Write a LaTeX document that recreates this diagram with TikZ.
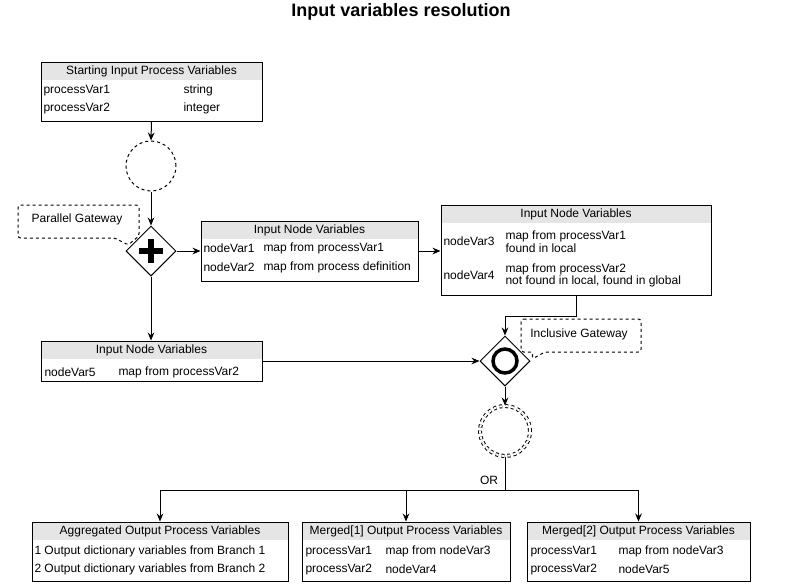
\documentclass[tikz,border=0pt]{standalone}
\usepackage{fontspec}
\setmainfont{Liberation Sans}
\usetikzlibrary{arrows.meta,shapes.geometric}

\tikzset{
  varbox/.style={draw, fill=white, inner sep=0pt,
    path picture={\fill[gray!20] (path picture bounding box.north west) rectangle ([yshift=-13.5pt]path picture bounding box.north east);}},
  headtxt/.style={font=\fontsize{9}{10}\selectfont, inner sep=0pt},
  rowtxt/.style={font=\fontsize{9}{9.5}\selectfont, inner sep=0pt, anchor=west, align=left, yshift=-1.1pt},
  gateway/.style={diamond, draw, fill=white, inner sep=0pt, minimum width=37.5pt, minimum height=37.5pt},
  event/.style={circle, draw, dash pattern=on 2.25pt off 2.25pt, inner sep=0pt, minimum size=37.5pt},
  callout/.style={draw, dash pattern=on 2.25pt off 2.25pt, rounded corners=2pt},
  flow/.style={-{Stealth[length=6pt,width=5pt]}}
}

\begin{document}
\begin{tikzpicture}[x=0.75pt, y=-0.75pt, line width=0.75pt]
        \useasboundingbox (0,0) rectangle (803,583);

        % Title
        \node[font=\bfseries\fontsize{13.5}{16}\selectfont] (title) at (401,12) {Input variables resolution};

        % Starting input process variables
        \node[varbox, minimum width=165.75pt, minimum height=44.25pt] (startvars) at (151.5,91.5) {};
        \node[headtxt] (startvarshead) at ([yshift=-7.6pt]startvars.north) {Starting Input Process Variables};
        \node[rowtxt] (sv1) at (43,89) {processVar1};
        \node[rowtxt] (sv1t) at (183,89) {string};
        \node[rowtxt] (sv2) at (43,107) {processVar2};
        \node[rowtxt] (sv2t) at (183,107) {integer};

        % Start event
        \node[event] (startcirc) at (151,166) {};

        % Parallel gateway
        \node[gateway] (pargw) at (151,251) {};
        \draw[line width=4.5pt] (139,251) -- (163,251);
        \draw[line width=4.5pt] (151,239) -- (151,263);
        \draw[callout] (18,205) -- (139,205) -- (139,236) -- (128,245) -- (115,238) -- (18,238) -- cycle;
        \node[headtxt] (parnote) at (77,219) {Parallel Gateway};

        % Input node variables (branch 1, first node)
        \node[varbox, minimum width=162.75pt, minimum height=45pt] (nodevarsA) at (309.5,251) {};
        \node[headtxt] (nodevarsAhead) at ([yshift=-7.6pt]nodevarsA.north) {Input Node Variables};
        \node[rowtxt] (nva1) at (203,247) {nodeVar1};
        \node[rowtxt] (nva1m) at (263,247) {map from processVar1};
        \node[rowtxt] (nva2) at (203,266) {nodeVar2};
        \node[rowtxt] (nva2m) at (263,266) {map from process definition};

        % Input node variables (branch 1, second node)
        \node[varbox, minimum width=202.5pt, minimum height=67.5pt] (nodevarsB) at (576,250) {};
        \node[headtxt] (nodevarsBhead) at ([yshift=-7.6pt]nodevarsB.north) {Input Node Variables};
        \node[rowtxt] (nvb3) at (443,240) {nodeVar3};
        \node[rowtxt] (nvb3m) at (505,240) {map from processVar1\\found in local};
        \node[rowtxt] (nvb4) at (443,274) {nodeVar4};
        \node[rowtxt] (nvb4m) at (505,274) {map from processVar2\\not found in local, found in global};

        % Input node variables (branch 2)
        \node[varbox, minimum width=165.75pt, minimum height=30pt] (nodevarsC) at (151.5,361) {};
        \node[headtxt] (nodevarsChead) at ([yshift=-7.6pt]nodevarsC.north) {Input Node Variables};
        \node[rowtxt] (nvc5) at (44,371) {nodeVar5};
        \node[rowtxt] (nvc5m) at (118,371) {map from processVar2};

        % Inclusive gateway
        \node[gateway] (incgw) at (505,361) {};
        \draw[line width=2.6pt] (incgw.center) circle[radius=9pt];
        \draw[callout] (521,319) -- (641,319) -- (641,352) -- (545,352) -- (532,359) -- (533,352) -- (521,352) -- cycle;
        \node[headtxt] (incnote) at (579,334) {Inclusive Gateway};

        % End event
        \node[event, double, double distance=1.5pt] (endcirc) at (505,431) {};
        \coordinate (orsplit) at (505,490);
        \node[headtxt] (orlabel) at (489,480) {OR};

        % Output process variables
        \node[varbox, minimum width=192pt, minimum height=44.25pt] (aggout) at (160,551.5) {};
        \node[headtxt] (aggouthead) at ([yshift=-7.6pt]aggout.north) {Aggregated Output Process Variables};
        \node[rowtxt] (ag1) at (34,550) {1\ Output dictionary variables from Branch 1};
        \node[rowtxt] (ag2) at (34,568) {2\ Output dictionary variables from Branch 2};

        \node[varbox, minimum width=156pt, minimum height=44.25pt] (mergeone) at (406,551.5) {};
        \node[headtxt] (mergeonehead) at ([yshift=-7.6pt]mergeone.north) {Merged[1] Output Process Variables};
        \node[rowtxt] (mo1) at (305,550) {processVar1};
        \node[rowtxt] (mo1m) at (385,550) {map from nodeVar3};
        \node[rowtxt] (mo2) at (305,568) {processVar2};
        \node[rowtxt] (mo2m) at (385,568) {nodeVar4};

        \node[varbox, minimum width=167.25pt, minimum height=44.25pt] (mergetwo) at (638.5,551.5) {};
        \node[headtxt] (mergetwohead) at ([yshift=-7.6pt]mergetwo.north) {Merged[2] Output Process Variables};
        \node[rowtxt] (mt1) at (530,550) {processVar1};
        \node[rowtxt] (mt1m) at (618,550) {map from nodeVar3};
        \node[rowtxt] (mt2) at (530,568) {processVar2};
        \node[rowtxt] (mt2m) at (618,568) {nodeVar5};

        % Connectors
        \draw[flow] (startvars.south) -- (startcirc.north);
        \draw[flow] (startcirc.south) -- (pargw.north);
        \draw[flow] (pargw.east) -- (nodevarsA.west);
        \draw[flow] (nodevarsA.east) -- (nodevarsA.east -| nodevarsB.west);
        \draw[flow] (pargw.south) -- (pargw.south |- nodevarsC.north);
        \draw[flow] (nodevarsB.south) -- ++(0,21) -| (incgw.north);
        \draw[flow] (nodevarsC.east) -- (incgw.west);
        \draw[flow] (incgw.south) -- (endcirc.north);
        \draw (endcirc.south) -- (orsplit);
        \draw[flow] (orsplit) -| (aggout.north);
        \draw[flow] (orsplit) -| (mergeone.north);
        \draw[flow] (orsplit) -| (mergetwo.north);
\end{tikzpicture}
\end{document}
